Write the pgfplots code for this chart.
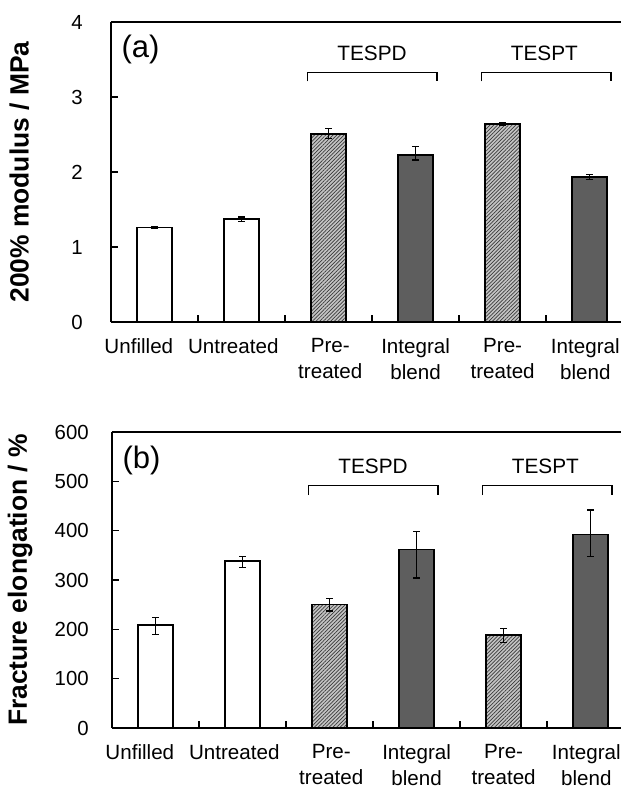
\documentclass[border=0pt]{standalone}
\usepackage{pgfplots}
\pgfplotsset{compat=1.18}
\usepackage{fontspec}
\setmainfont{Liberation Sans}
\usetikzlibrary{patterns.meta}
\definecolor{darkbar}{HTML}{5E5E5E}
\definecolor{hatchbg}{HTML}{C4C4C4}
\definecolor{hatchln}{HTML}{3A3A3A}

\pgfplotsset{
  panel/.style={
    width=255pt, scale only axis, xmin=-0.5, xmax=5.36,
    ybar, bar width=0.4,
    axis x line*=bottom, axis y line*=left,
    axis line style={-, line width=0.7pt},
    tick align=inside,
    major tick length=3.3pt,
    tick style={line width=0.7pt, black},
    xtick={0.5,1.5,2.5,3.5,4.5}, xticklabels={},
    extra x ticks={-0.18,0.905,2.02,3,4,4.95},
    extra x tick labels={Unfilled,Untreated,{Pre-\\treated},{Integral\\blend},{Pre-\\treated},{Integral\\blend}},
    extra x tick style={major tick length=0pt, tick style={draw=none}},
    /pgf/number format/assume math mode=true,
    tick label style={font=\fontsize{10.2}{12}\selectfont},
    x tick label style={align=center, font=\fontsize{10.3}{13}\selectfont, yshift=-4.6pt},
    ylabel style={at={(axis description cs:-0.18,0.5)}, anchor=center, font=\bfseries\fontsize{13.2}{15}\selectfont},
    clip=false,
  },
  whitebar/.style={bar shift=0pt, fill=white, draw=black, line width=0.8pt},
  hatchbar/.style={bar shift=0pt, draw=black, line width=0.8pt, preaction={fill=hatchbg}, pattern={Lines[angle=45,distance=1.3pt,line width=0.35pt]}, pattern color=hatchln},
  darkbar/.style={bar shift=0pt, fill=darkbar, draw=black, line width=0.8pt},
  errs/.style={error bars/.cd, y dir=both, y explicit, error bar style={line width=0.6pt, black, solid}, error mark options={rotate=90, mark size=1.6pt, line width=0.6pt, black, solid}},
}

\begin{document}
\begin{tikzpicture}
\useasboundingbox (-55.5pt,-233pt) rectangle (255pt,161pt);

% ---------- (a) ----------
\begin{axis}[panel, at={(0pt,0pt)}, anchor=south west, height=150pt,
  ymin=0, ymax=4, ytick={0,1,2,3,4},
  y tick label style={xshift=-10.6pt},
  ylabel={200\% modulus / MPa}]
\addplot[whitebar, errs] table[x=x, y=y, y error plus=ep, y error minus=em]{
x y ep em
0 1.26 0.012 0.012
1 1.37 0.03 0.03
};
\addplot[hatchbar, errs] table[x=x, y=y, y error plus=ep, y error minus=em]{
x y ep em
2 2.51 0.07 0.06
4 2.64 0.015 0.015
};
\addplot[darkbar, errs] table[x=x, y=y, y error plus=ep, y error minus=em]{
x y ep em
3 2.23 0.11 0.07
5 1.93 0.035 0.035
};
\draw[line width=0.7pt] (rel axis cs:0,1) -- (rel axis cs:1,1);
\draw[line width=0.7pt] (axis cs:1.755,3.21) -- (axis cs:1.755,3.33) -- (axis cs:3.245,3.33) -- (axis cs:3.245,3.21);
\draw[line width=0.7pt] (axis cs:3.755,3.21) -- (axis cs:3.755,3.33) -- (axis cs:5.245,3.33) -- (axis cs:5.245,3.21);
\node[font=\fontsize{10.4}{12}\selectfont] at (axis cs:2.5,3.58) {TESPD};
\node[font=\fontsize{10.4}{12}\selectfont] at (axis cs:4.48,3.58) {TESPT};
\node[anchor=west, inner sep=0pt, font=\fontsize{15.5}{18}\selectfont] at (rel axis cs:0.02,0.908) {(a)};
\end{axis}

% ---------- (b) ----------
\begin{axis}[panel, at={(0.5pt,-203pt)}, anchor=south west, height=148pt,
  ymin=0, ymax=600, ytick={0,100,...,600},
  y tick label style={xshift=-8.1pt},
  ylabel={Fracture elongation / \%}]
\addplot[whitebar, errs] table[x=x, y=y, y error plus=ep, y error minus=em]{
x y ep em
0 209 15 19
1 338 9 12
};
\addplot[hatchbar, errs] table[x=x, y=y, y error plus=ep, y error minus=em]{
x y ep em
2 250 13 13
4 189 13 16
};
\addplot[darkbar, errs] table[x=x, y=y, y error plus=ep, y error minus=em]{
x y ep em
3 362 37 58
5 392 50 45
};
\draw[line width=0.7pt] (rel axis cs:0,1) -- (rel axis cs:1,1);
\draw[line width=0.7pt] (axis cs:1.755,472) -- (axis cs:1.755,491) -- (axis cs:3.245,491) -- (axis cs:3.245,472);
\draw[line width=0.7pt] (axis cs:3.755,472) -- (axis cs:3.755,491) -- (axis cs:5.245,491) -- (axis cs:5.245,472);
\node[font=\fontsize{10.4}{12}\selectfont] at (axis cs:2.5,530) {TESPD};
\node[font=\fontsize{10.4}{12}\selectfont] at (axis cs:4.48,530) {TESPT};
\node[anchor=west, inner sep=0pt, font=\fontsize{15.5}{18}\selectfont] at (rel axis cs:0.02,0.905) {(b)};
\end{axis}
\end{tikzpicture}
\end{document}
